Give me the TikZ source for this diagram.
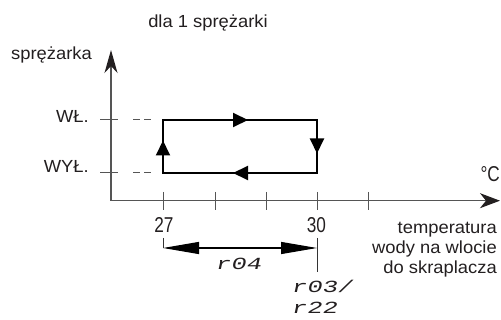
\documentclass[tikz,border=0pt]{standalone}
\usepackage{fontspec}
\setmainfont{Liberation Sans}
\newfontfamily\widefont[FakeStretch=1.05]{Liberation Sans}
\newfontfamily\narrowfont[FakeStretch=0.8]{Liberation Sans}
\newfontfamily\segfont[FakeSlant=0.22,FakeStretch=1.5]{Liberation Mono}
\usetikzlibrary{arrows.meta}
\definecolor{axisgray}{HTML}{555555}
\definecolor{ink}{HTML}{231F20}
\tikzset{
  axis/.style={draw=axisgray, line width=1.2pt},
  tickline/.style={draw=axisgray, line width=1pt},
  loopline/.style={draw=black, line width=2pt},
  loophead/.style={loopline, -{Triangle[length=15pt,width=14pt]}},
  dimline/.style={draw=black, line width=1.1pt},
  lbl/.style={font=\widefont\fontsize{17.5}{20}\selectfont, inner sep=0pt, text=ink},
  num/.style={font=\narrowfont\fontsize{21.5}{24}\selectfont, inner sep=0pt, text=ink},
  seg/.style={font=\segfont\fontsize{17}{20}\selectfont, inner sep=0pt, text=ink},
}
\begin{document}
\begin{tikzpicture}[x=1pt,y=-1pt]
\useasboundingbox (0,0) rectangle (501,320);
% texts
\node[lbl, anchor=base] (title) at (208,27.5) {dla 1 sprężarki};
\node[lbl, anchor=base east] (ylab) at (92,60) {sprężarka};
\node[lbl, anchor=base east] (on) at (89,123) {WŁ.};
\node[lbl, anchor=base east] (off) at (89,173) {WYŁ.};
\node[num, anchor=base] (t27) at (164,232.5) {27};
\node[num, anchor=base] (t30) at (316.5,232.5) {30};
\node[num, anchor=base east] (deg) at (500,182) {°C};
\node[lbl, anchor=base east] (xl1) at (497,234) {temperatura};
\node[lbl, anchor=base east] (xl2) at (497,254) {wody na wlocie};
\node[lbl, anchor=base east] (xl3) at (497,274) {do skraplacza};
\node[seg, anchor=base west] (r04) at (215,270) {r04};
\node[seg, anchor=base west] (r03) at (291,293) {r03/};
\node[seg, anchor=base west] (r22) at (291,314) {r22};
% axes
\coordinate (O) at (111,200.7);
\coordinate (ytip) at (111,50);
\coordinate (xtip) at (500,200.7);
\draw[axis, -{Stealth[length=23pt,width=13pt,inset=7pt,color=ink]}] (O) -- (ytip);
\draw[axis, -{Stealth[length=20pt,width=15pt,inset=6pt,color=ink]}] (O) -- (xtip);
\foreach \x in {163,215,266,317,368} \draw[tickline] (\x,192) -- (\x,210);
\foreach \y in {120,173} {
  \draw[tickline] (100,\y) -- (118,\y);
  \draw[tickline] (133,\y) -- (140,\y);
  \draw[tickline] (144,\y) -- (151,\y);
}
% hysteresis loop
\coordinate (A) at (163,173);
\coordinate (B) at (163,120);
\coordinate (C) at (317,120);
\coordinate (D) at (317,173);
\draw[loopline] (A) -- (B) -- (C) -- (D) -- cycle;
\draw[loophead] (163,155) -- (163,140.5);
\draw[loophead] (232.5,120) -- (248,120);
\draw[loophead] (317,138.5) -- (317,153.5);
\draw[loophead] (248.5,173) -- (233,173);
% dimension
\coordinate (m1) at (163,248);
\coordinate (m2) at (317,248);
\draw[dimline, {Triangle[length=36pt,width=12pt]}-{Triangle[length=36pt,width=12pt]}] (m1) -- (m2);
\draw[tickline, draw=black!80] (163,238) -- (m1);
\draw[tickline, draw=black!80] (317,238) -- (317,272);
\end{tikzpicture}
\end{document}
